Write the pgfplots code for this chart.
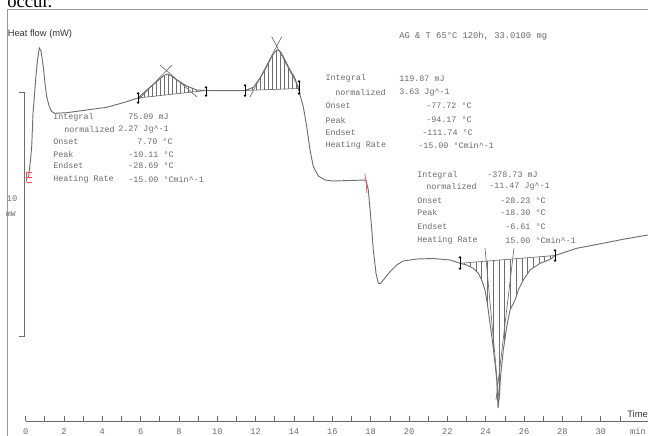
\documentclass[border=0pt]{standalone}
\usepackage{fontspec}
\setmainfont{Liberation Serif}
\setsansfont{Liberation Sans}
\setmonofont{Liberation Mono}
\usepackage{pgfplots}
\pgfplotsset{compat=1.18}
\usepgfplotslibrary{fillbetween}
\usetikzlibrary{patterns.meta,arrows.meta}
\definecolor{crv}{HTML}{6E6E6E}
\definecolor{txt}{HTML}{6A6A6A}
\definecolor{dark}{HTML}{333333}
\newcommand\mk[3]{\draw[black,line width=0.5pt,{Triangle[length=1.6pt,width=2.2pt]}-{Triangle[length=1.6pt,width=2.2pt]}] (axis cs:#1,#2) -- (axis cs:#1,#3);}
\newcommand\lab[3]{\node[anchor=west,inner sep=0pt,text=txt,font=\fontsize{6.3}{7}\ttfamily] at (axis cs:#1,#2) {#3};}
\newcommand\cc{\textasciicircum}
\begin{document}
\begin{tikzpicture}
\begin{axis}[at={(0,0)}, anchor=south west, width=486pt, height=308.625pt, scale only axis,
  xmin=-1.3354, xmax=32.467, ymin=0, ymax=16.865, clip=false,
  axis x line=bottom, axis y line=none, x axis line style={draw=none},
  xtick={0,2,...,30}, minor xtick={1,3,...,31}, tick align=inside,
  major tick length=4pt, minor tick length=4pt,
  tick style={draw=txt, line width=0.5pt}, minor tick style={draw=txt, line width=0.5pt},
  xticklabel style={font=\fontsize{6.5}{7}\ttfamily, text=txt, yshift=-2pt},
  /pgf/number format/assume math mode=true]

% frame
\draw[gray!80, line width=0.75pt] (axis cs:-0.955,-1) -- (axis cs:-0.955,16.865) -- (axis cs:32.6,16.865);
\node[anchor=base west, inner sep=0pt, font=\fontsize{14}{16}\selectfont] at (axis cs:-0.97,16.967) {occur.};
\node[anchor=west, inner sep=0pt, font=\fontsize{7}{8}\sffamily, text=dark] at (axis cs:-0.944,15.861) {Heat flow (mW)};
\node[anchor=east, inner sep=0pt, font=\fontsize{7}{8}\sffamily, text=dark] at (axis cs:32.467,0.287) {Time};
\node[anchor=center, inner sep=0pt, font=\fontsize{6.5}{7}\ttfamily, text=txt] at (axis cs:31.946,-0.41) {min};
\draw[txt, line width=0.5pt] (axis cs:0,0) -- (axis cs:32.6,0);

% scale bar
\draw[crv, line width=0.6pt] (axis cs:-0.344,13.484) -- (axis cs:-0.083,13.484) -- (axis cs:-0.083,3.484) -- (axis cs:-0.344,3.484);
\node[inner sep=0pt, font=\fontsize{6.5}{7}\ttfamily, text=txt] at (axis cs:-0.709,9.098) {10};
\node[inner sep=0pt, font=\fontsize{6}{7}\ttfamily, text=txt] at (axis cs:-0.762,8.484) {mW};

% main curve
\addplot[name path=curve, crv, line width=0.7pt] coordinates {
(0.151,9.959) (0.256,10.697) (0.318,11.242) (0.386,12.623) (0.464,13.361) (0.543,14.180)
(0.621,14.795) (0.715,15.287) (0.803,15.164) (0.923,14.520) (1.012,13.840) (1.101,13.291)
(1.236,12.881) (1.362,12.676) (1.534,12.611) (2.144,12.635) (3.187,12.746) (4.231,12.857)
(5.274,13.086) (5.863,13.238) (6.317,13.566) (6.839,13.906) (7.183,14.139) (7.376,14.221)
(7.585,14.160) (7.882,13.975) (8.404,13.730) (8.925,13.566) (9.411,13.545) (10.402,13.537)
(11.445,13.545) (11.878,13.676) (12.228,14.045) (12.577,14.520) (12.838,14.930) (13.010,15.135)
(13.130,15.205) (13.245,15.164) (13.360,15.070) (13.704,14.520) (14.053,14.045) (14.226,13.635)
(14.314,13.361) (14.486,12.881) (14.664,12.061) (14.836,11.107) (15.008,10.422) (15.269,10.041)
(15.618,9.877) (16.051,9.836) (16.573,9.848) (17.757,9.877) (17.877,9.467) (18.002,8.373)
(18.138,7.008) (18.279,6.053) (18.399,5.643) (18.513,5.635) (18.659,5.779) (19.009,6.119)
(19.358,6.393) (19.687,6.557) (20.417,6.639) (21.252,6.660) (22.139,6.598) (22.660,6.463)
(23.010,6.393) (23.354,6.258) (23.615,6.053) (23.792,5.779) (23.964,5.369) (24.084,4.824)
(24.225,4.004) (24.366,3.184) (24.486,2.365) (24.575,1.680) (24.643,0.533) (24.721,1.066)
(24.773,1.816) (24.919,2.910) (25.097,3.865) (25.269,4.549) (25.530,4.959) (25.702,5.369)
(25.962,5.779) (26.312,6.189) (26.834,6.463) (27.356,6.619) (27.616,6.783) (28.748,7.078)
(30.120,7.283) (31.163,7.447) (32.467,7.623)
};

% baselines
\addplot[name path=b1, crv, line width=0.5pt] coordinates {(5.863,13.238) (9.411,13.545)};
\addplot[name path=b2, crv, line width=0.5pt] coordinates {(11.445,13.545) (14.262,13.627)};
\addplot[name path=b3, crv, line width=0.5pt] coordinates {(22.660,6.463) (27.616,6.783)};

\addplot[draw=none, pattern={Lines[angle=90,distance=3pt,line width=0.35pt]}, pattern color=crv] fill between[of=curve and b1, soft clip={domain=5.863:9.411}];
\addplot[draw=none, pattern={Lines[angle=90,distance=3pt,line width=0.35pt]}, pattern color=crv] fill between[of=curve and b2, soft clip={domain=11.445:14.262}];
\addplot[draw=none, pattern={Lines[angle=90,distance=4.3pt,line width=0.35pt]}, pattern color=crv] fill between[of=curve and b3, soft clip={domain=22.660:27.616}];

% tangents
\addplot[crv, line width=0.5pt] coordinates {(5.863,13.156) (7.637,14.590)};
\addplot[crv, line width=0.5pt] coordinates {(7.011,14.590) (8.941,13.279)};
\addplot[crv, line width=0.5pt] coordinates {(11.706,13.279) (13.360,15.750)};
\addplot[crv, line width=0.5pt] coordinates {(12.838,15.750) (14.314,13.566)};
\addplot[crv, line width=0.5pt] coordinates {(23.964,7.090) (24.695,0.861)};
\addplot[crv, line width=0.5pt] coordinates {(25.477,7.090) (24.539,0.861)};

% limit markers
\mk{5.869}{13.484}{12.992}
\mk{9.411}{13.730}{13.279}
\mk{11.445}{13.811}{13.279}
\mk{14.262}{13.975}{13.361}
\mk{22.660}{6.762}{6.189}
\mk{27.616}{7.049}{6.516}

% red marks
\draw[red!70, line width=0.4pt] (axis cs:0.05,10.20) -- (axis cs:0.31,10.20) (axis cs:0.05,10.0) -- (axis cs:0.31,10.0) (axis cs:0.05,9.80) -- (axis cs:0.31,9.80) (axis cs:0.05,9.80) -- (axis cs:0.05,10.20);
\draw[red!70, line width=0.5pt] (axis cs:17.70,10.15) -- (axis cs:17.77,9.70) -- (axis cs:17.80,9.35);

% header
\node[anchor=west,inner sep=0pt,text=txt,font=\fontsize{6.6}{7}\ttfamily] at (axis cs:19.478,15.779) {AG \& T 65°C 120h, 33.0100 mg};

% block 1
\lab{1.429}{12.459}{Integral}   \lab{5.342}{12.459}{75.09 mJ}
\lab{2.003}{11.955}{normalized} \lab{4.820}{11.955}{2.27 Jg\cc-1}
\lab{1.429}{11.447}{Onset}      \lab{5.811}{11.447}{7.70 °C}
\lab{1.429}{10.930}{Peak}       \lab{5.342}{10.930}{-10.11 °C}
\lab{1.429}{10.451}{Endset}     \lab{5.342}{10.451}{-28.69 °C}
\lab{1.429}{9.906}{Heating Rate} \lab{5.342}{9.906}{-15.00 °Cmin\cc-1}

% block 2
\lab{15.634}{14.045}{Integral}   \lab{19.478}{14.045}{119.87 mJ}
\lab{16.140}{13.455}{normalized} \lab{19.478}{13.455}{3.63 Jg\cc-1}
\lab{15.634}{12.922}{Onset}      \lab{20.887}{12.922}{-77.72 °C}
\lab{15.634}{12.336}{Peak}       \lab{20.887}{12.336}{-94.17 °C}
\lab{15.634}{11.816}{Endset}     \lab{20.678}{11.816}{-111.74 °C}
\lab{15.634}{11.311}{Heating Rate} \lab{20.469}{11.311}{-15.00 °Cmin\cc-1}

% block 3
\lab{20.417}{10.082}{Integral}   \lab{24.069}{10.082}{-378.73 mJ}
\lab{20.887}{9.590}{normalized}  \lab{24.173}{9.590}{-11.47 Jg\cc-1}
\lab{20.417}{9.016}{Onset}       \lab{24.747}{9.016}{-28.23 °C}
\lab{20.417}{8.525}{Peak}        \lab{24.747}{8.525}{-18.30 °C}
\lab{20.417}{7.951}{Endset}      \lab{25.008}{7.951}{-6.61 °C}
\lab{20.417}{7.418}{Heating Rate} \lab{25.008}{7.418}{15.00 °Cmin\cc-1}
\end{axis}
\pgfresetboundingbox
\useasboundingbox (0,-10.5pt) rectangle (486pt,315.75pt);
\end{tikzpicture}
\end{document}
